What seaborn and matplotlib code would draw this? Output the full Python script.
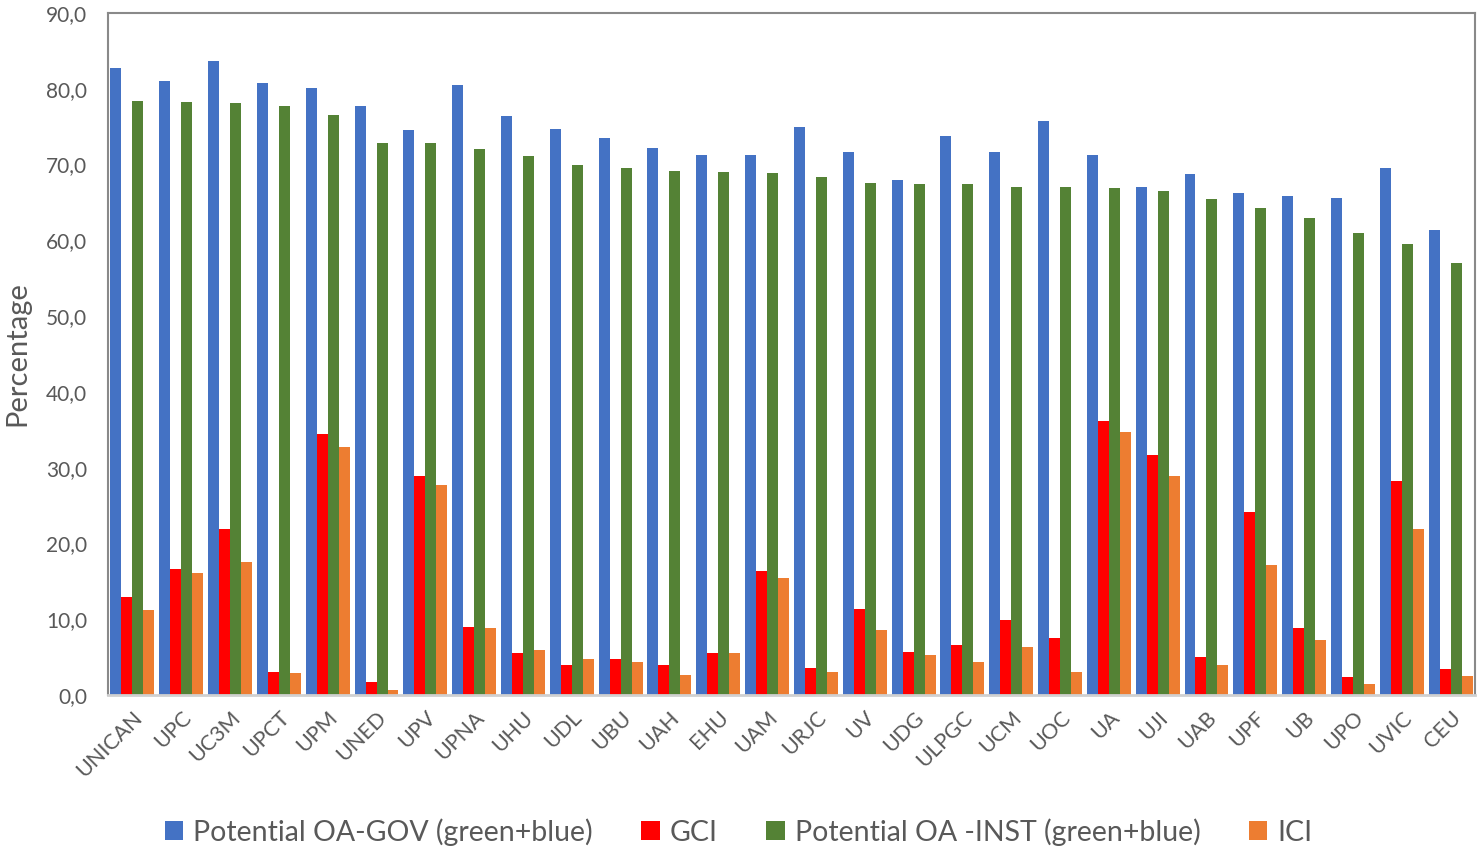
import matplotlib
matplotlib.use("Agg")
import matplotlib.pyplot as plt
import seaborn as sns
import pandas as pd
from matplotlib.patches import Patch
from matplotlib.ticker import FuncFormatter

universities = ["UNICAN", "UPC", "UC3M", "UPCT", "UPM", "UNED", "UPV", "UPNA", "UHU", "UDL",
                "UBU", "UAH", "EHU", "UAM", "URJC", "UV", "UDG", "ULPGC", "UCM", "UOC",
                "UA", "UJI", "UAB", "UPF", "UB", "UPO", "UVIC", "CEU"]
oa_gov = [82.8, 81.0, 83.6, 80.8, 80.1, 77.7, 74.6, 80.5, 76.4, 74.7,
          73.5, 72.2, 71.2, 71.3, 75.0, 71.6, 68.0, 73.8, 71.6, 75.7,
          71.3, 67.0, 68.8, 66.2, 65.8, 65.6, 69.6, 61.4]
gci = [12.9, 16.6, 21.9, 3.1, 34.5, 1.7, 28.9, 9.0, 5.6, 3.9,
       4.7, 3.9, 5.6, 16.4, 3.6, 11.4, 5.7, 6.6, 9.9, 7.5,
       36.2, 31.7, 5.0, 24.1, 8.8, 2.4, 28.2, 3.4]
oa_inst = [78.4, 78.3, 78.1, 77.7, 76.6, 72.9, 72.8, 72.1, 71.1, 69.9,
           69.5, 69.2, 69.0, 68.9, 68.3, 67.5, 67.4, 67.4, 67.0, 67.0,
           66.9, 66.5, 65.4, 64.3, 63.0, 61.0, 59.5, 57.0]
ici = [11.2, 16.1, 17.6, 2.9, 32.7, 0.6, 27.7, 8.8, 6.0, 4.7,
       4.3, 2.6, 5.5, 15.5, 3.0, 8.6, 5.3, 4.4, 6.4, 3.0,
       34.7, 28.9, 4.0, 17.1, 7.3, 1.4, 21.9, 2.5]
series_names = ["Potential OA-GOV (green+blue)", "GCI", "Potential OA -INST (green+blue)", "ICI"]
colors = ["#4472C4", "#FF0000", "#548235", "#ED7D31"]

rows = []
for name, vals in zip(series_names, [oa_gov, gci, oa_inst, ici]):
    for u, v in zip(universities, vals):
        rows.append({"University": u, "Series": name, "Value": v})
df = pd.DataFrame(rows)

sns.set_theme(style="white")
plt.rcParams["font.family"] = ["Lato", "DejaVu Sans"]

fig = plt.figure(figsize=(14.77, 8.52), dpi=100)
ax = fig.add_axes([108 / 1477, 1 - 695 / 852, (1475 - 108) / 1477, (695 - 13) / 852])

sns.barplot(data=df, x="University", y="Value", hue="Series", order=universities,
            hue_order=series_names, palette=colors, width=0.9, saturation=1,
            errorbar=None, ax=ax, legend=False, linewidth=0)

ax.set_ylim(0, 90)
ax.set_yticks(range(0, 91, 10))
ax.yaxis.set_major_formatter(FuncFormatter(lambda v, p: f"{v:.1f}".replace(".", ",")))
ax.set_xlim(-0.5, len(universities) - 0.5)
ax.set_xlabel("")
ax.set_ylabel("Percentage", fontsize=21, color="#595959", labelpad=11)
ax.tick_params(axis="y", labelsize=15, colors="#595959", length=0, pad=15)
ax.tick_params(axis="x", labelsize=15.5, colors="#595959", length=0, pad=9)
plt.setp(ax.get_xticklabels(), rotation=45, ha="right", rotation_mode="anchor")

for side in ["left", "top", "right"]:
    ax.spines[side].set_color("#898989")
    ax.spines[side].set_linewidth(1.5)
ax.spines["bottom"].set_color("#D0D0D0")
ax.spines["bottom"].set_linewidth(2)

handles = [Patch(facecolor=c, edgecolor="none", label=n) for c, n in zip(colors, series_names)]
fig.legend(handles=handles, loc="center", bbox_to_anchor=(0.5, 1 - 832 / 852), ncol=4,
           frameon=False, fontsize=20.5, handlelength=0.65, handleheight=0.65,
           handletextpad=0.35, columnspacing=1.7, labelcolor="#595959")

fig.savefig("out.png", dpi=100)
